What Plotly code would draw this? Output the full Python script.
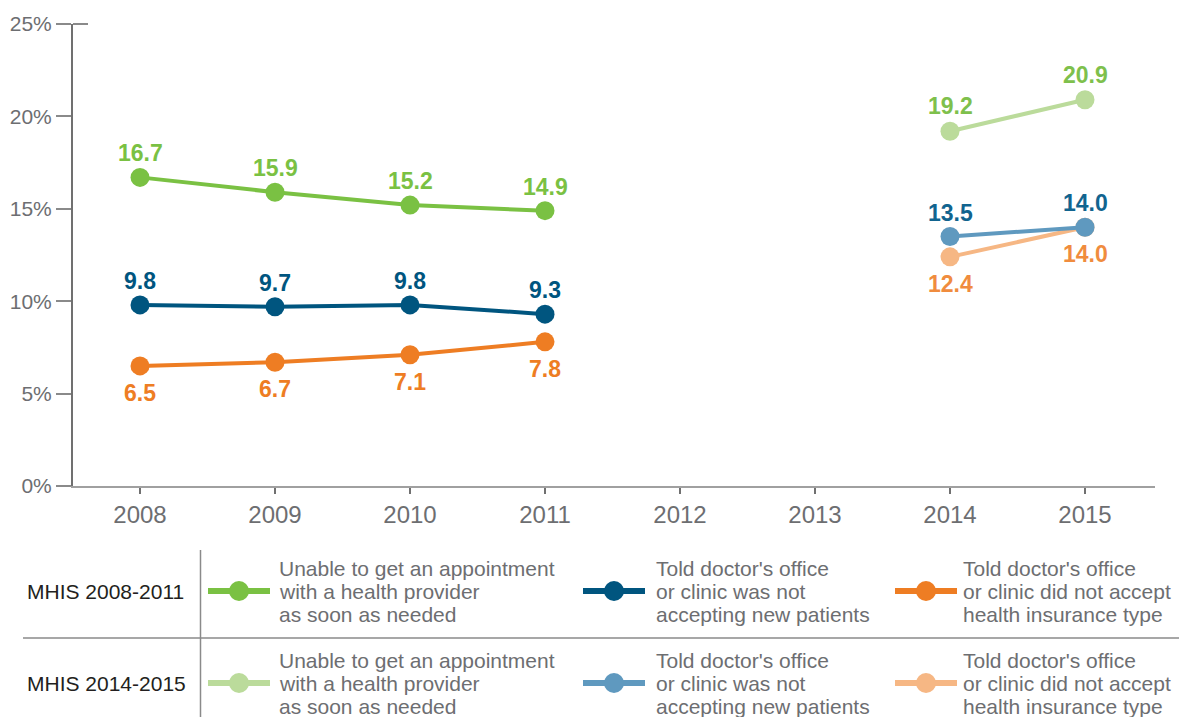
import plotly.graph_objects as go

# ---- data ----
years_a = [2008, 2009, 2010, 2011]
years_b = [2014, 2015]
appt_a = [16.7, 15.9, 15.2, 14.9]
newpat_a = [9.8, 9.7, 9.8, 9.3]
insur_a = [6.5, 6.7, 7.1, 7.8]
appt_b = [19.2, 20.9]
newpat_b = [13.5, 14.0]
insur_b = [12.4, 14.0]

x_ticks = [2008, 2009, 2010, 2011, 2012, 2013, 2014, 2015]
y_ticks = [0, 5, 10, 15, 20, 25]
y_ticktext = ["0%", "5%", "10%", "15%", "20%", "25%"]

row_labels = ["MHIS 2008-2011", "MHIS 2014-2015"]
legend_texts = [
    ["Unable to get an appointment", "with a health provider", "as soon as needed"],
    ["Told doctor's office", "or clinic was not", "accepting new patients"],
    ["Told doctor's office", "or clinic did not accept", "health insurance type"],
]

# ---- styling ----
GREEN, BLUE, ORANGE = "#7AC143", "#00557F", "#EE7D23"
LGREEN, LBLUE, LORANGE = "#BBDB9B", "#5F99BF", "#F6B784"
LGREEN_TXT, LBLUE_TXT, LORANGE_TXT = "#7EC04C", "#11648F", "#F08C3E"
GREY_TXT = "#6D6E71"
AXIS = "#8A8A8A"
LABEL_FONT = "Liberation Sans Narrow, Liberation Sans, Arial, sans-serif"
TEXT_FONT = "Liberation Sans, Arial, sans-serif"

W, H = 1179, 717
L, R, T, B = 73, 1155, 24, 486  # plot area in pixels

fig = go.Figure()

# (x, y, line colour, label colour, label offset in px; positive = above)
series = [
    (years_a, insur_a, ORANGE, ORANGE, -27),
    (years_a, newpat_a, BLUE, BLUE, 24),
    (years_a, appt_a, GREEN, GREEN, 24),
    (years_b, appt_b, LGREEN, LGREEN_TXT, 25),
    (years_b, insur_b, LORANGE, LORANGE_TXT, -27),
    (years_b, newpat_b, LBLUE, LBLUE_TXT, 24),
]

annotations = []
for xs, ys, col, tcol, shift in series:
    fig.add_trace(go.Scatter(
        x=xs, y=ys, mode="lines+markers",
        line=dict(color=col, width=4),
        marker=dict(color=col, size=19),
        hoverinfo="skip", showlegend=False,
    ))
    for xv, yv in zip(xs, ys):
        annotations.append(dict(
            x=xv, y=yv, xref="x", yref="y", text=f"{yv:.1f}",
            showarrow=False, yshift=shift, xanchor="center", yanchor="middle",
            font=dict(family=LABEL_FONT, size=23, color=tcol, weight="bold"),
        ))

# ---- key table below the chart (pixel coordinates on a helper axis) ----
row_y = [591, 683]
sample_x = [(208, 270), (583, 645), (895, 957)]
text_x = [277, 654, 961]
key_colors = [[GREEN, BLUE, ORANGE], [LGREEN, LBLUE, LORANGE]]
line_offsets = [-23, 0, 23]

for r, ry in enumerate(row_y):
    annotations.append(dict(
        x=25, y=ry, xref="x2", yref="y2", text=row_labels[r], showarrow=False,
        xanchor="left", yanchor="middle",
        font=dict(family=TEXT_FONT, size=21, color="#231F20"),
    ))
    for c in range(3):
        x0, x1 = sample_x[c]
        col = key_colors[r][c]
        fig.add_trace(go.Scatter(
            x=[x0, x1], y=[ry, ry], xaxis="x2", yaxis="y2", mode="lines",
            line=dict(color=col, width=6), hoverinfo="skip", showlegend=False,
        ))
        fig.add_trace(go.Scatter(
            x=[(x0 + x1) / 2], y=[ry], xaxis="x2", yaxis="y2", mode="markers",
            marker=dict(color=col, size=20), hoverinfo="skip", showlegend=False,
        ))
        for k, line in enumerate(legend_texts[c]):
            annotations.append(dict(
                x=text_x[c], y=ry + line_offsets[k], xref="x2", yref="y2",
                text=line, showarrow=False, xanchor="left", yanchor="middle",
                font=dict(family=TEXT_FONT, size=21, color=GREY_TXT),
            ))

shapes = [
    dict(type="line", xref="x2", yref="y2", x0=200.5, x1=200.5, y0=550, y1=717,
         line=dict(color=AXIS, width=1.5)),
    dict(type="line", xref="x2", yref="y2", x0=23, x1=1179, y0=638, y1=638,
         line=dict(color=AXIS, width=1.5)),
    # short cap on the top of the value axis
    dict(type="line", xref="x2", yref="y2", x0=L, x1=L + 15, y0=T, y1=T,
         line=dict(color=AXIS, width=2)),
]

x_lo = 2008 - (140 - L) / 135
x_hi = 2015 + (R - 1085) / 135

fig.update_layout(
    template="none",
    width=W, height=H,
    margin=dict(l=0, r=0, t=0, b=0, autoexpand=False),
    paper_bgcolor="white", plot_bgcolor="rgba(0,0,0,0)",
    annotations=annotations, shapes=shapes,
    xaxis=dict(
        domain=[L / W, R / W], range=[x_lo, x_hi], anchor="y",
        tickvals=x_ticks, ticktext=[str(v) for v in x_ticks],
        showgrid=False, zeroline=False, automargin=False,
        showline=True, linecolor="#A0A0A0", linewidth=2,
        ticks="outside", ticklen=6, tickwidth=1.5, tickcolor="#707070",
        tickfont=dict(family=TEXT_FONT, size=24, color=GREY_TXT),
        fixedrange=True,
    ),
    yaxis=dict(
        domain=[(H - B) / H, (H - T) / H], range=[0, 25], anchor="x",
        tickvals=y_ticks, ticktext=y_ticktext,
        showgrid=False, zeroline=False, automargin=False,
        showline=True, linecolor="#707070", linewidth=2,
        ticks="outside", ticklen=15, tickwidth=1.5, tickcolor=AXIS,
        tickfont=dict(family=TEXT_FONT, size=21, color=GREY_TXT),
        fixedrange=True,
    ),
    xaxis2=dict(domain=[0, 1], range=[0, W], visible=False, fixedrange=True,
                anchor="y2", automargin=False),
    yaxis2=dict(domain=[0, 1], range=[H, 0], visible=False, fixedrange=True,
                anchor="x2", automargin=False),
)

fig.write_html("out.html")
